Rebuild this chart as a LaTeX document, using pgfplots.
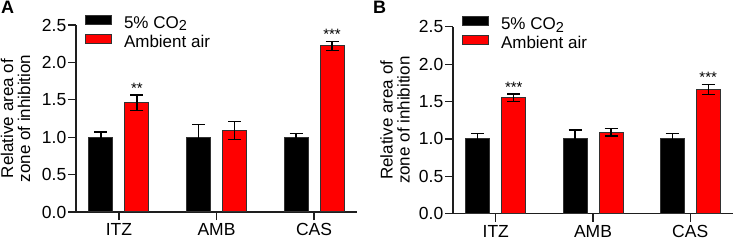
\documentclass[border=0pt]{standalone}
\usepackage{pgfplots}
\pgfplotsset{compat=1.18}
\usepackage{fontspec}
\setmainfont{Liberation Sans}

\definecolor{barred}{RGB}{255,0,0}
\definecolor{edge}{RGB}{50,50,50}
\definecolor{axisgray}{RGB}{30,30,30}

\newcommand{\co}{CO\raisebox{-0.28ex}{\fontsize{14.5bp}{14.5bp}\selectfont 2}}

\pgfplotsset{
  panel/.style={
    scale only axis, height=187bp,
    anchor=south west,
    xmin=-0.44, xmax=2.44, ymin=0, ymax=2.5,
    axis lines=left,
    axis line style={-, line width=1.2bp, axisgray},
    xtick={0,1,2}, xticklabels={ITZ,AMB,CAS},
    ytick={0,0.5,1,1.5,2,2.5},
    yticklabel style={/pgf/number format/fixed,
      /pgf/number format/fixed zerofill,
      /pgf/number format/precision=1, inner sep=1.5bp},
    /pgf/number format/assume math mode=true,
    tick align=outside, major tick length=8bp,
    tick style={line width=1.2bp, axisgray},
    tick label style={font=\fontsize{17.5bp}{19bp}\selectfont},
    ylabel={Relative area of\\zone of inhibition},
    ylabel style={align=center, anchor=center,
      font=\fontsize{17bp}{17bp}\selectfont},
    ybar=12bp, bar width=24bp,
    every axis plot post/.append style={
      draw=edge, line width=1bp,
      legend image code/.code={
        \draw[##1, draw=edge, line width=1bp] (0bp,0.7bp) rectangle (26bp,9.7bp);},
      error bars/.cd, y dir=both, y explicit,
      error bar style={line width=1.2bp, black, solid},
      error mark options={rotate=90, mark size=6.5bp, line width=1.2bp, black}},
    legend style={at={(rel axis cs:0,1)}, anchor=north west,
      xshift=9bp, yshift=10.3bp, draw=none, fill=none,
      inner sep=0pt, outer sep=0pt, column sep=12bp, row sep=0pt,
      font=\fontsize{17bp}{18bp}\selectfont,
      nodes={inner sep=0pt, text height=12bp, text depth=5.5bp}},
    legend cell align=left,
  },
}
\tikzset{stars/.style={anchor=base, inner sep=0pt, yshift=1.5bp,
    font=\fontsize{15bp}{15bp}\selectfont}}

\begin{document}
\begin{tikzpicture}
\path[use as bounding box] (0,0) rectangle (735bp,241bp);

% Panel A
\begin{axis}[panel, width=281bp, at={(76bp,29bp)},
  ylabel style={at={(axis description cs:-0.215,0.5)}}]
\addplot[fill=black] coordinates {
  (0,1.00) +- (0,0.07)
  (1,1.00) +- (0,0.17)
  (2,1.00) +- (0,0.05)};
\addplot[fill=barred] coordinates {
  (0,1.46) +- (0,0.105)
  (1,1.09) +- (0,0.12)
  (2,2.22) +- (0,0.06)};
\legend{5\% \co, Ambient air}
\node[stars] at (axis cs:0,1.565) [xshift=18bp] {**};
\node[stars] at (axis cs:2,2.28) [xshift=18bp] {***};
\end{axis}

% Panel B
\begin{axis}[panel, width=280bp, at={(453bp,27.3bp)},
  ylabel style={at={(axis description cs:-0.207,0.5)}}]
\addplot[fill=black] coordinates {
  (0,1.00) +- (0,0.07)
  (1,1.00) +- (0,0.12)
  (2,1.00) +- (0,0.07)};
\addplot[fill=barred] coordinates {
  (0,1.55) +- (0,0.05)
  (1,1.09) +- (0,0.05)
  (2,1.66) +- (0,0.07)};
\legend{5\% \co, Ambient air}
\node[stars] at (axis cs:0,1.60) [xshift=18bp] {***};
\node[stars] at (axis cs:2,1.73) [xshift=18bp] {***};
\end{axis}

\node[anchor=north west, inner sep=0pt] at (1bp,240bp)
  {\fontsize{18bp}{18bp}\selectfont\bfseries A};
\node[anchor=north west, inner sep=0pt] at (373bp,240bp)
  {\fontsize{18bp}{18bp}\selectfont\bfseries B};
\end{tikzpicture}
\end{document}
